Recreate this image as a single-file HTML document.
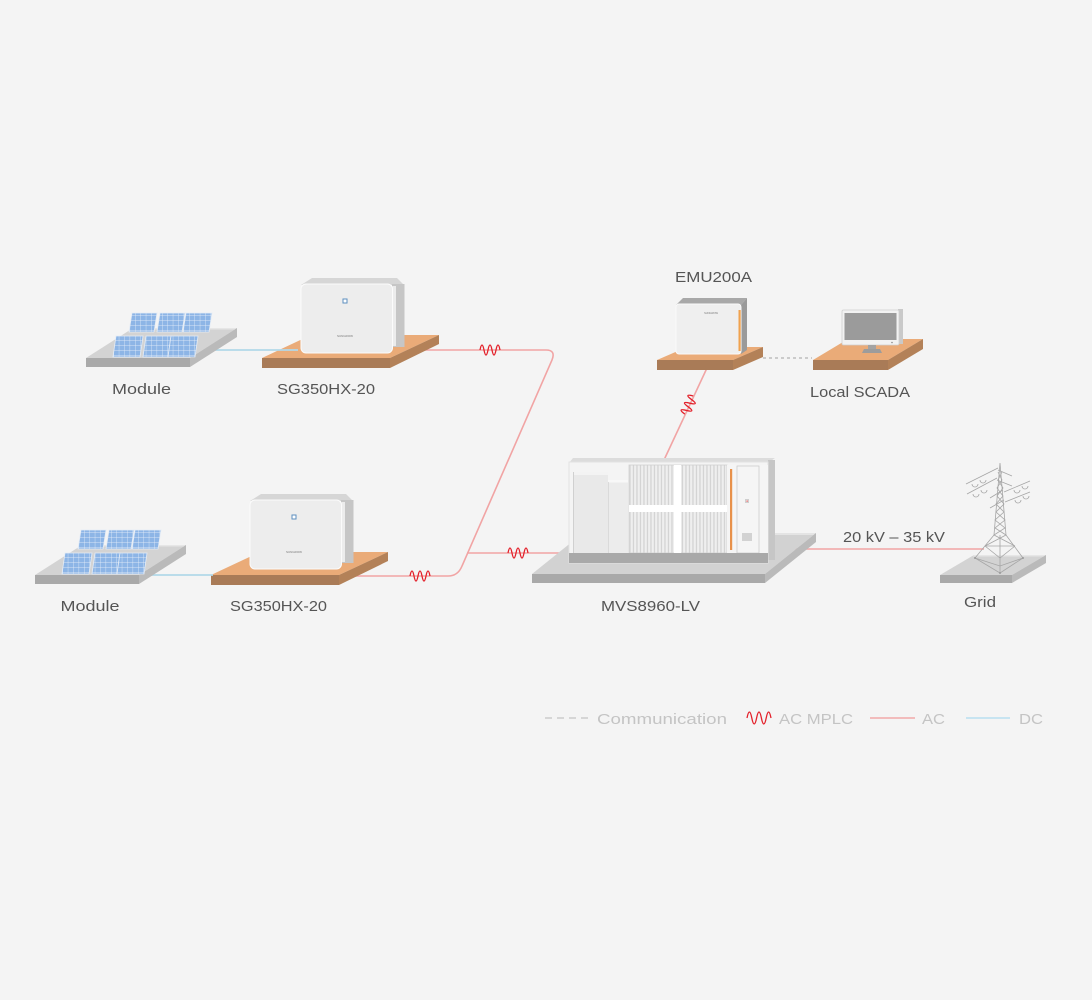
<!DOCTYPE html>
<html><head><meta charset="utf-8"><style>
html,body{margin:0;padding:0;background:#f4f4f4;}
svg{display:block;}
text{font-family:"Liberation Sans",sans-serif;}
</style></head><body>
<svg width="1092" height="1000" viewBox="0 0 1092 1000" xmlns="http://www.w3.org/2000/svg">
<defs>
<pattern id="pv" patternUnits="userSpaceOnUse" width="5.4" height="5">
<rect width="5.4" height="5" fill="#8db5e6"/>
<path d="M0,0 H5.4 M0,0 V5" stroke="#eef4fb" stroke-width="0.7"/>
</pattern>
<pattern id="rib" patternUnits="userSpaceOnUse" width="3.5" height="10">
<rect width="3.5" height="10" fill="#d4d4d4"/>
<rect x="0.6" width="2.2" height="10" fill="#efefef"/>
</pattern>
<g id="modgrp">
  <!-- module platform -->
  <polygon points="133,328 237,328 190,358 86,358" fill="#d3d3d3"/>
  <polygon points="133,328 237,328 236,329.5 134,329.5" fill="#e6e6e6"/>
  <rect x="86" y="358" width="104" height="9" fill="#a9a9a9"/>
  <polygon points="190,358 237,328 237,337 190,367" fill="#bababa"/>
  <!-- panels back -->
  <polygon points="132,313 157,313 154,332 129,332" fill="url(#pv)" stroke="#e4ecf6" stroke-width="0.8"/>
  <polygon points="160,313 185,313 182,332 157,332" fill="url(#pv)" stroke="#e4ecf6" stroke-width="0.8"/>
  <polygon points="186,313 212,313 209,332 183,332" fill="url(#pv)" stroke="#e4ecf6" stroke-width="0.8"/>
  <!-- panels front -->
  <polygon points="116,336 143,336 140,357 113,357" fill="url(#pv)" stroke="#e4ecf6" stroke-width="0.8"/>
  <polygon points="146,336 171,336 168,357 143,357" fill="url(#pv)" stroke="#e4ecf6" stroke-width="0.8"/>
  <polygon points="171,336 198,336 195,357 168,357" fill="url(#pv)" stroke="#e4ecf6" stroke-width="0.8"/>
</g>
<g id="invgrp">
  <!-- orange platform -->
  <polygon points="311,335 439,335 390,358 262,358" fill="#eaab78"/>
  <rect x="262" y="358" width="128" height="10" fill="#a97b57"/>
  <polygon points="390,358 439,335 439,344 390,368" fill="#b38158"/>
</g>
<g id="invbox">
  <polygon points="312,278 397,278 404,285 392,285 301,285" fill="#d6d6d6"/>
  <rect x="392" y="284" width="12.5" height="63" fill="#c6c6c6"/>
  <rect x="392.5" y="286" width="3.5" height="60" fill="#ececec"/>
  <rect x="301" y="284" width="91.5" height="69" rx="5" fill="#ededed" stroke="#fbfbfb" stroke-width="1"/>
  <rect x="343" y="299" width="4" height="4" fill="#fff" stroke="#5d8fbf" stroke-width="1"/>
  <text x="345" y="337" font-size="3" fill="#777" text-anchor="middle">SUNGROW</text>
</g>
<g id="wave"><path d="M-10,0 q2,-10 4,0 t4,0 t4,0 t4,0 t4,0" fill="none" stroke="#e3202a" stroke-width="1.3"/></g>
</defs>

<!-- AC lines (under objects) -->
<g fill="none" stroke="#f1a4a4" stroke-width="1.6">
  <path d="M420,350 H546 Q556,350 552,360 L462,566 Q458,576 448,576 H350"/>
  <path d="M467,553 H572"/>
  <path d="M770,549 H984"/>
  <path d="M707,368 L664,460"/>
</g>
<!-- comm line -->
<path d="M763,358 H812" stroke="#bdbdbd" stroke-width="1.5" stroke-dasharray="3,3" fill="none"/>

<!-- MPLC waves -->
<use href="#wave" x="490" y="350"/>
<use href="#wave" x="420" y="576"/>
<use href="#wave" x="518" y="553"/>
<g transform="translate(689,405) rotate(-64.9)"><use href="#wave"/></g>

<!-- top group -->
<use href="#invgrp"/>
<path d="M206,350 H298" stroke="#b2d8e8" stroke-width="1.8"/>
<use href="#modgrp"/>
<use href="#invbox"/>

<!-- bottom group -->
<g transform="translate(-51,217)"><use href="#invgrp"/></g>
<path d="M150,575 H213" stroke="#b2d8e8" stroke-width="1.8"/>
<g transform="translate(-51,217)"><use href="#modgrp"/></g>
<g transform="translate(-51,216)"><use href="#invbox"/></g>

<!-- EMU platform -->
<polygon points="687,347 763,347 733,360 657,360" fill="#eaab78"/>
<rect x="657" y="360" width="76" height="10" fill="#a97b57"/>
<polygon points="733,360 763,347 763,357 733,370" fill="#b38158"/>
<!-- EMU box -->
<polygon points="683,298 747,298 741,305 676,305" fill="#a8a8a8"/>
<polygon points="741,305 747,298 747,350 741,354" fill="#9a9a9a"/>
<rect x="676" y="304" width="65" height="50" rx="3" fill="#efefef" stroke="#fafafa" stroke-width="1"/>
<rect x="738.5" y="310" width="2.2" height="41" fill="#f0a24e"/>
<text x="711" y="314" font-size="2.6" fill="#777" text-anchor="middle">SUNGROW</text>

<!-- SCADA platform -->
<polygon points="848,339 923,339 888,360 813,360" fill="#eaab78"/>
<rect x="813" y="360" width="75" height="10" fill="#a97b57"/>
<polygon points="888,360 923,339 923,349 888,370" fill="#b38158"/>
<!-- monitor -->
<rect x="898" y="309" width="5" height="35" fill="#c9c9c9"/>
<rect x="842" y="310" width="57" height="35" rx="1.5" fill="#f2f2f2" stroke="#cfcfcf" stroke-width="0.8"/>
<rect x="844.5" y="313" width="52" height="27" fill="#9b9b9b"/>
<circle cx="892" cy="342.5" r="0.8" fill="#888"/>
<rect x="868" y="345" width="8" height="4" fill="#a3a3a3"/>
<polygon points="864,349 880,349 882,353 862,353" fill="#9c9c9c"/>

<!-- MVS platform -->
<polygon points="583,533 816,533 765,574 532,574" fill="#d2d2d2"/>
<polygon points="583,533 816,533 814,535 581,535" fill="#e4e4e4"/>
<rect x="532" y="574" width="233" height="9" fill="#a9a9a9"/>
<polygon points="765,574 816,533 816,542 765,583" fill="#bababa"/>
<!-- MVS container -->
<polygon points="573,458 775,458 768,463 569,463" fill="#dcdcdc"/>
<rect x="768" y="460" width="7" height="100" fill="#c6c6c6"/>
<rect x="569" y="462" width="199" height="101" fill="#f4f4f4" stroke="#e2e2e2" stroke-width="1"/>
<rect x="573" y="472" width="35" height="81" fill="#e9e9e9"/>
<rect x="573" y="472" width="35" height="3" fill="#f3f3f3"/>
<rect x="573" y="472" width="1" height="81" fill="#d0d0d0"/>
<rect x="608" y="480" width="20" height="73" fill="#ececec"/>
<rect x="608" y="480" width="20" height="2.5" fill="#f8f8f8"/>
<rect x="608" y="482" width="0.8" height="71" fill="#d6d6d6"/>
<rect x="629" y="465" width="98" height="88" fill="url(#rib)"/>
<rect x="629" y="465" width="98" height="88" fill="none" stroke="#d0d0d0" stroke-width="0.8"/>
<rect x="674" y="465" width="7" height="88" fill="#ffffff"/>
<rect x="629" y="505" width="98" height="7" fill="#ffffff"/>
<rect x="727" y="465" width="41" height="88" fill="#f5f5f5"/>
<rect x="730" y="469" width="2.2" height="81" fill="#e8914a"/>
<rect x="737" y="466" width="22" height="87" fill="none" stroke="#cdcdcd" stroke-width="0.8"/>
<rect x="745.5" y="499.5" width="3" height="3" fill="#f4f4f4" stroke="#aaa" stroke-width="0.5"/>
<rect x="746.5" y="500.5" width="1.2" height="1.2" fill="#d33"/>
<rect x="742" y="533" width="10" height="8" fill="#d2d2d2"/>
<rect x="569" y="553" width="199" height="10" fill="#a9a9a9"/>

<!-- Grid platform -->
<polygon points="974,555 1046,555 1012,575 940,575" fill="#d3d3d3"/>
<polygon points="974,555 1046,555 1045,556.5 973,556.5" fill="#e6e6e6"/>
<rect x="940" y="575" width="72" height="8" fill="#a9a9a9"/>
<polygon points="1012,575 1046,555 1046,563 1012,583" fill="#bababa"/>
<!-- tower -->
<g stroke="#a6a6a6" stroke-width="0.8" fill="none">
  <path d="M1000,463 L994,535 M1000,463 L1006,535"/>
  <path d="M998,472 L1002,480 L997,488 L1003,496 L996,504 L1004,512 L995,520 L1005,528 L994,535"/>
  <path d="M1002,472 L998,480 L1003,488 L997,496 L1004,504 L996,512 L1005,520 L995,528 L1006,535"/>
  <path d="M994,535 L975,558 M1006,535 L1023,558 M1000,535 L1000,573"/>
  <path d="M975,558 L1000,566 L1023,558 M985,546 L1015,546 M994,535 L1015,546 M1006,535 L985,546 M975,558 L1000,573 L1023,558 M985,546 L1000,558 L1015,546"/>
  <path d="M998,468 L966,484 M997,478 L967,494 M998,470 L1012,476 M997,480 L1012,486"/>
  <path d="M1004,492 L1030,481 M1005,502 L1030,492 M1003,490 L990,498 M1004,500 L990,508"/>
  <path d="M972,484 a3,3 0 0 0 6,0 M980,480 a3,3 0 0 0 6,0 M973,494 a3,3 0 0 0 6,0 M981,490 a3,3 0 0 0 6,0"/>
  <path d="M1014,490 a3,3 0 0 0 6,0 M1022,486 a3,3 0 0 0 6,0 M1015,500 a3,3 0 0 0 6,0 M1023,496 a3,3 0 0 0 6,0"/>
</g>
<g fill="#9a9a9a"><circle cx="975" cy="558" r="1"/><circle cx="1023" cy="558" r="1"/><circle cx="1000" cy="573" r="1"/></g>

<!-- labels -->
<g font-size="15" fill="#555" text-anchor="middle">
  <text x="141.5" y="394" textLength="59" lengthAdjust="spacingAndGlyphs">Module</text>
  <text x="326" y="394" textLength="98" lengthAdjust="spacingAndGlyphs">SG350HX-20</text>
  <text x="90" y="611" textLength="59" lengthAdjust="spacingAndGlyphs">Module</text>
  <text x="278.5" y="611" textLength="97" lengthAdjust="spacingAndGlyphs">SG350HX-20</text>
  <text x="650.5" y="611" textLength="99" lengthAdjust="spacingAndGlyphs">MVS8960-LV</text>
  <text x="980" y="607" textLength="32" lengthAdjust="spacingAndGlyphs">Grid</text>
  <text x="894" y="542" textLength="102" lengthAdjust="spacingAndGlyphs">20 kV – 35 kV</text>
  <text x="713.5" y="282" textLength="77" lengthAdjust="spacingAndGlyphs">EMU200A</text>
  <text x="860" y="397" textLength="100" lengthAdjust="spacingAndGlyphs">Local SCADA</text>
</g>

<!-- legend -->
<path d="M545,718 H591" stroke="#c4c4c4" stroke-width="1.3" stroke-dasharray="7,5"/>
<path d="M747,718 q2.4,-12 4.8,0 t4.8,0 t4.8,0 t4.8,0 t4.8,0" fill="none" stroke="#e3202a" stroke-width="1.3"/>
<path d="M870,718 H915" stroke="#f2a9a9" stroke-width="1.6"/>
<path d="M966,718 H1010" stroke="#b8dff0" stroke-width="1.6"/>
<g font-size="15" fill="#c4c4c4">
  <text x="597" y="724" textLength="130" lengthAdjust="spacingAndGlyphs">Communication</text>
  <text x="779" y="724" textLength="74" lengthAdjust="spacingAndGlyphs">AC MPLC</text>
  <text x="922" y="724" textLength="23" lengthAdjust="spacingAndGlyphs">AC</text>
  <text x="1019" y="724" textLength="24" lengthAdjust="spacingAndGlyphs">DC</text>
</g>
</svg>
</body></html>
